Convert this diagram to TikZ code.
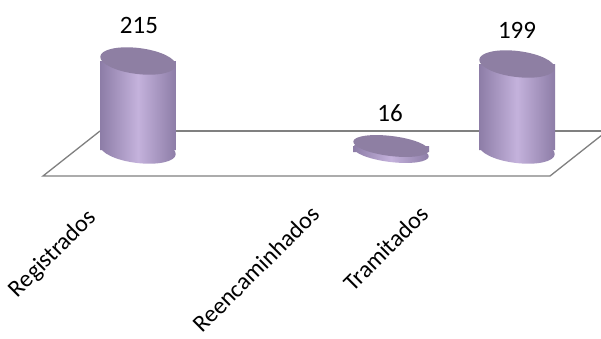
\documentclass[tikz,border=0pt]{standalone}
\usepackage{fontspec}
\setmainfont{Carlito}
\begin{document}
\begin{tikzpicture}[x=1pt,y=-1pt,
  floorline/.style={draw=black!50,line width=1.3pt},
  barside/.style={left color=barEdge,right color=barEdge,middle color=barMid},
  bartop/.style={fill=barTop},
  vallabel/.style={font=\fontsize{25}{28}\selectfont,inner sep=0pt},
  catlabel/.style={font=\fontsize{24}{28}\selectfont,inner sep=0pt,rotate=45,anchor=east}]
\definecolor{barEdge}{RGB}{140,124,166}
\definecolor{barMid}{RGB}{196,178,220}
\definecolor{barTop}{RGB}{142,127,163}
\useasboundingbox[fill=white] (0,0) rectangle (601,338);
% floor
\coordinate (fl) at (43,176);
\coordinate (fr) at (550,176);
\coordinate (bl) at (100,131);
\coordinate (br) at (607,131);
\draw[floorline] (bl) -- (fl) -- (fr) -- (br);
\draw[floorline] (bl) -- (br);
% Bar 1
\path[barside] (176,61) rectangle (100,150) (138,150) ellipse[x radius=38,y radius=13,rotate=-7];
\path[bartop] (138,61) ellipse[x radius=38,y radius=13,rotate=-7];
% Bar 2
\path[barside] (429,146) rectangle (353,152) (391,152) ellipse[x radius=38,y radius=10,rotate=-7];
\path[bartop] (391,146) ellipse[x radius=38,y radius=10,rotate=-7];
% Bar 3
\path[barside] (555,64) rectangle (479,150) (517,150) ellipse[x radius=38,y radius=13,rotate=-7];
\path[bartop] (517,64) ellipse[x radius=38,y radius=13,rotate=-7];
% value labels
\node[vallabel] (v1) at (139,25) {215};
\node[vallabel] (v2) at (390,113) {16};
\node[vallabel] (v3) at (517,30) {199};
% category labels
\node[catlabel] (c1) at (93,214) {Registrados};
\node[catlabel] (c2) at (315,210) {Reencaminhados};
\node[catlabel] (c3) at (424,210) {Tramitados};
\end{tikzpicture}
\end{document}
